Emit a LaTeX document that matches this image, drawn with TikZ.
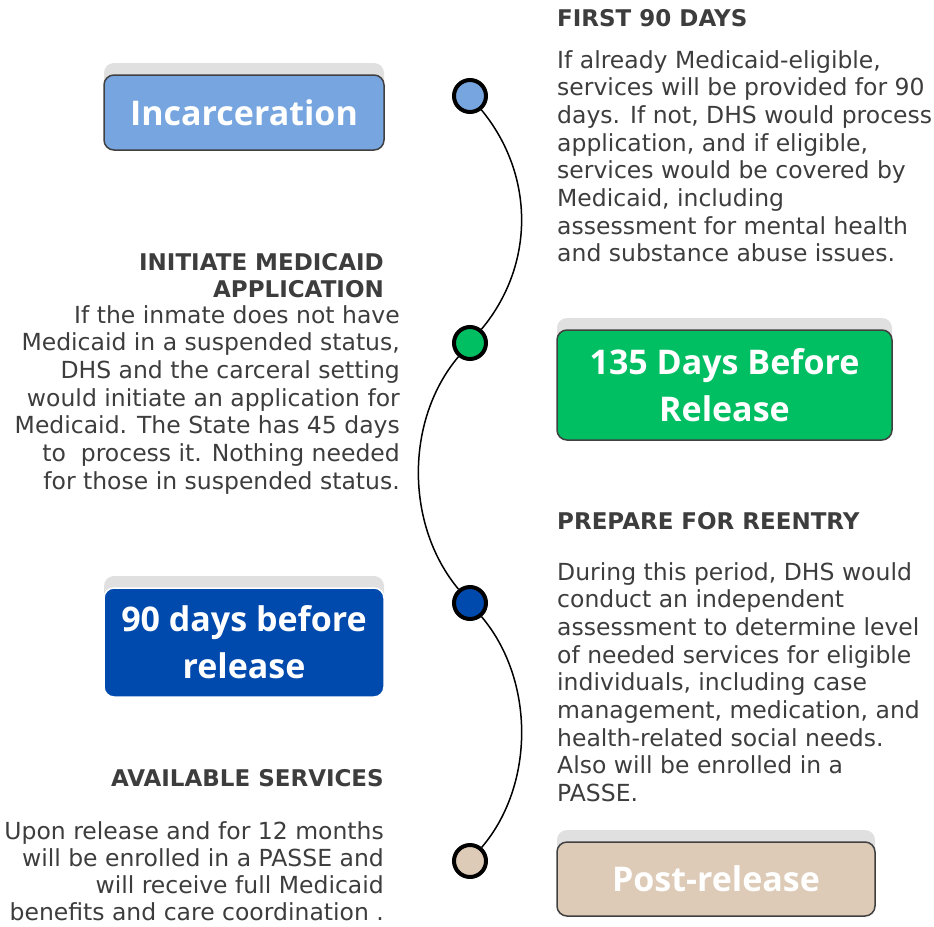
\documentclass[tikz,border=0pt]{standalone}
\usepackage{fontspec}
\setmainfont{DejaVu Sans}
\newfontfamily\stagefont{Open Sans}
\usepackage{tikz}
\usetikzlibrary{positioning,shadows}

\definecolor{txtgrey}{HTML}{3D3D3D}
\definecolor{edgegrey}{HTML}{404040}
\definecolor{shadegrey}{HTML}{E0E0E0}
\definecolor{incblue}{HTML}{76A5DF}
\definecolor{relgreen}{HTML}{00BF63}
\definecolor{deepblue}{HTML}{004AAD}
\definecolor{sand}{HTML}{DDCBB8}

\begin{document}
\begin{tikzpicture}[x=1pt, y=-1pt]

    \tikzstyle{stage} = [rectangle, rounded corners=10pt, line width=1.5pt, draw=edgegrey, text=white, align=center, font=\stagefont\fontsize{34}{47}\selectfont\bfseries, drop shadow={shadow xshift=0pt, shadow yshift=12pt, fill=shadegrey, opacity=1}]
    \tikzstyle{dot}   = [circle, line width=4pt, draw=black, minimum size=32pt, inner sep=0pt]
    \tikzstyle{head}  = [text=txtgrey, inner sep=0pt, font=\fontsize{23}{27.5}\selectfont\bfseries]
    \tikzstyle{body}  = [text=txtgrey, inner sep=0pt, font=\fontsize{23.5}{27.7}\selectfont]
    \tikzstyle{curve} = [line width=1.5pt, black]

    \useasboundingbox (0,0) rectangle (934,926);

    % stage boxes
    \node (incar)  [stage, fill=incblue, minimum width=280pt, minimum height=75pt]   at (244,112.5) {Incarceration};
    \node (before) [stage, fill=relgreen, minimum width=335pt, minimum height=110pt] at (724.5,385) {135 Days Before\\Release};
    \node (ninety) [stage, fill=deepblue, draw=white, minimum width=280pt, minimum height=109pt] at (244,642.5) {90 days before\\release};
    \node (post)   [stage, fill=sand, minimum width=318pt, minimum height=74pt]    at (716,879) {Post-release};

    % timeline
    \node (dot1) [dot, fill=incblue]  at (470,96)  {};
    \node (dot2) [dot, fill=relgreen] at (470,343) {};
    \node (dot3) [dot, fill=deepblue] at (470,603) {};
    \node (dot4) [dot, fill=sand]     at (470,861) {};

    \draw[curve] (dot1) .. controls (535,175) and (535,265) .. (dot2);
    \draw[curve] (dot2) .. controls (405,420) and (405,525) .. (dot3);
    \draw[curve] (dot3) .. controls (535,680) and (535,785) .. (dot4);

    % texts
    \node (firsthd) [head, anchor=base west] at (557,26) {FIRST 90 DAYS};
    \node (firsttx) [body, anchor=north west, align=left] at (557,50) {If already Medicaid-eligible,\\services will be provided for 90\\days. If not, DHS would process\\application, and if eligible,\\services would be covered by\\Medicaid, including\\assessment for mental health\\and substance abuse issues.};

    \node (inithd) [head, anchor=base east, align=right] at (384,297.7) {INITIATE MEDICAID\\APPLICATION};
    \node (inittx) [body, anchor=north east, align=right] at (400,305) {If the inmate does not have\\Medicaid in a suspended status,\\DHS and the carceral setting\\would initiate an application for\\Medicaid. The State has 45 days\\to\ \ process it. Nothing needed\\for those in suspended status.};

    \node (prephd) [head, anchor=base west] at (557,529) {PREPARE FOR REENTRY};
    \node (preptx) [body, anchor=north west, align=left] at (557,562) {During this period, DHS would\\conduct an independent\\assessment to determine level\\of needed services for eligible\\individuals, including case\\management, medication, and\\health-related social needs.\\Also will be enrolled in a\\PASSE.};

    \node (availhd) [head, anchor=base east] at (384,786) {AVAILABLE SERVICES};
    \node (availtx) [body, anchor=north east, align=right, font=\fontsize{23.5}{27.3}\selectfont] at (384,821) {Upon release and for 12 months\\will be enrolled in a PASSE and\\will receive full Medicaid\\benefits and care coordination .};

\end{tikzpicture}
\end{document}
